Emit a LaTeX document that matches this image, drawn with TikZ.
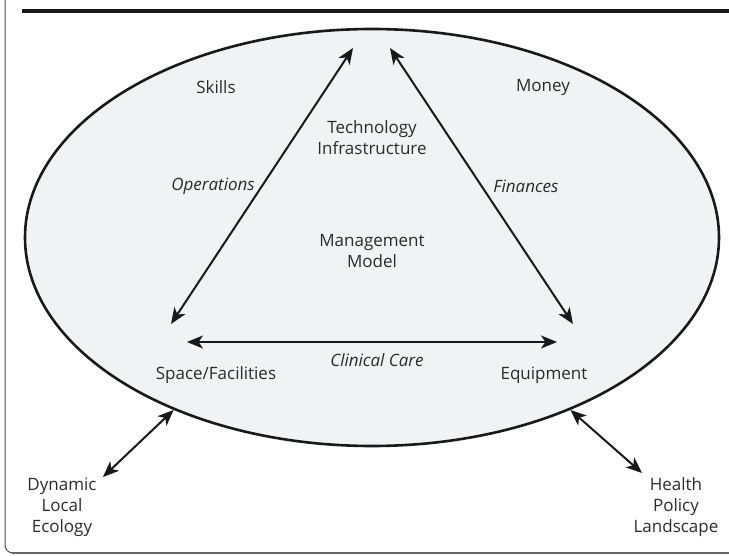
\documentclass[tikz,border=0pt]{standalone}
\usepackage{fontspec}
\setmainfont{Open Sans}
\usetikzlibrary{arrows.meta,shapes.geometric}

\definecolor{ovalfill}{HTML}{F1F2F4}
\definecolor{inkgray}{HTML}{2B2B2B}

\begin{document}
\begin{tikzpicture}[x=0.5pt,y=-0.5pt,>={Stealth[length=8pt,width=6.5pt,inset=2.2pt]},font=\fontsize{8.5}{10.5}\selectfont]
            \tikzstyle{oval}=[ellipse,draw=black!90,line width=1.3pt,fill=ovalfill,minimum width=347pt,minimum height=208.5pt,inner sep=0pt]
            \tikzstyle{caption}=[text=inkgray,align=center,inner sep=0pt]
            \tikzstyle{link}=[<->,line width=1pt,black!90]

            \useasboundingbox (0,0) rectangle (729,556);
            % frame
            \draw[line width=0.5pt,black!70,rounded corners=4pt] (5,0) -- (5,553) -- (20,553);
            \draw[line width=1.3pt,black!60] (12,553) -- (729,553);
            \draw[line width=2pt,black!90] (22,11) -- (729,11);

            \node [oval] (sys) at (372,237.5) {};

            \node [caption] (skills) at (216,87) {Skills};
            \node [caption] (money) at (543,87) {Money};
            \node [caption] (tech) at (372,138) {Technology\\Infrastructure};
            \node [caption] (mgmt) at (372,251) {Management\\Model};
            \node [caption,font=\fontsize{8.5}{10.5}\selectfont\itshape] (ops) at (213,186) {Operations};
            \node [caption,font=\fontsize{8.5}{10.5}\selectfont\itshape] (fin) at (526,186) {Finances};
            \node [caption,font=\fontsize{8.5}{10.5}\selectfont\itshape] (care) at (377,360) {Clinical Care};
            \node [caption] (space) at (216,375) {Space/Facilities};
            \node [caption] (equip) at (544,375) {Equipment};
            \node [caption] (eco) at (62,507) {Dynamic\\Local\\Ecology};
            \node [caption] (policy) at (676,507) {Health\\Policy\\Landscape};

            % triangle corners
            \coordinate (t1) at (353,48);
            \coordinate (t2) at (390,48);
            \coordinate (l1) at (171,324);
            \coordinate (l2) at (187,342);
            \coordinate (r1) at (573,324);
            \coordinate (r2) at (557,342);
            \coordinate (e1) at (103,477);
            \coordinate (h1) at (642,473);

            \draw [link] (l1) -- (t1);   %operations
            \draw [link] (t2) -- (r1);   %finances
            \draw [link] (l2) -- (r2);   %clinical care
            \draw [link] (e1) -- (sys.221);
            \draw [link] (sys.319.3) -- (h1);
\end{tikzpicture}
\end{document}
